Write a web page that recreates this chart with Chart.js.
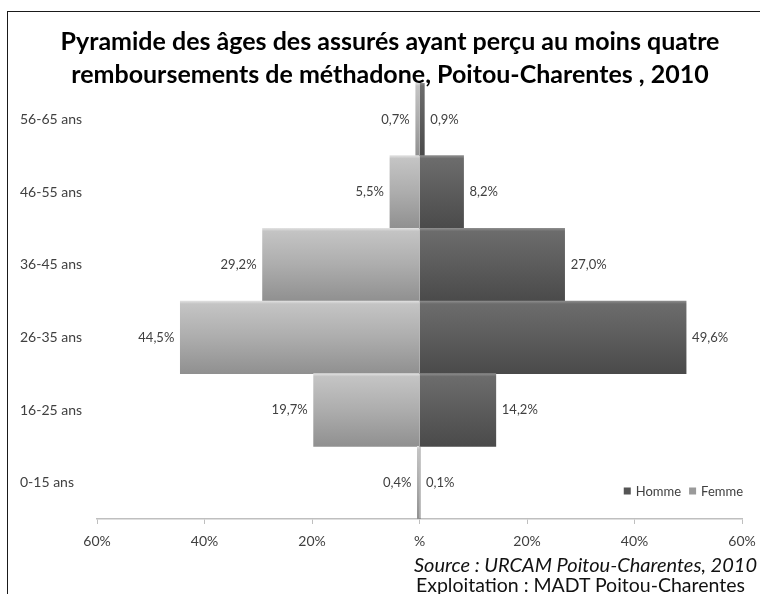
<!DOCTYPE html>
<html>
<head>
<meta charset="utf-8">
<script src="https://cdn.jsdelivr.net/npm/chart.js@4/dist/chart.umd.min.js"></script>
<style>
  html, body { margin: 0; padding: 0; background: #fff; overflow: hidden; }
  #wrap { position: relative; width: 760px; height: 594px; overflow: hidden; }
  #frame { position: absolute; left: 7px; top: 11px; width: 820px; height: 700px; border: 1.5px solid #1a1a1a; box-sizing: border-box; pointer-events: none; }
  canvas { position: absolute; left: 0; top: 0; }
  .src { position: absolute; right: 3px; font-family: Lato, "Liberation Sans", sans-serif; color: #111; white-space: nowrap; }
  #s1 { top: 552px; font-style: italic; font-size: 20px; }
  #s2 { top: 573px; right: 15px; font-size: 19.5px; }
</style>
</head>
<body>
<div id="wrap">
  <canvas id="c" width="760" height="594"></canvas>
  <div id="frame"></div>
  <div class="src" id="s1">Source : URCAM Poitou-Charentes, 2010</div>
  <div class="src" id="s2">Exploitation : MADT Poitou-Charentes</div>
</div>
<script>
const titleLines = ['Pyramide des âges des assurés ayant perçu au moins quatre', 'remboursements de méthadone, Poitou-Charentes , 2010'];
const categories = ['56-65 ans', '46-55 ans', '36-45 ans', '26-35 ans', '16-25 ans', '0-15 ans'];
const hommeValues = [0.9, 8.2, 27.0, 49.6, 14.2, 0.1];
const femmeValues = [-0.7, -5.5, -29.2, -44.5, -19.7, -0.4];
const xTickValues = [-60, -40, -20, 0, 20, 40, 60];
const xTickLabels = ['60%', '40%', '20%', '%', '20%', '40%', '60%'];
const seriesNames = ['Homme', 'Femme'];

const FONT = 'Lato, "Liberation Sans", sans-serif';

function barGradient(stops, solid) {
  return function (ctx) {
    const chart = ctx.chart;
    const y = chart.scales && chart.scales.y;
    if (!chart.chartArea || !y || ctx.dataIndex === undefined) return solid;
    const yc = y.getPixelForValue(ctx.dataIndex);
    const half = (y.bottom - y.top) / categories.length / 2;
    const g = chart.ctx.createLinearGradient(0, yc - half, 0, yc + half);
    stops.forEach(s => g.addColorStop(s[0], s[1]));
    return g;
  };
}

const femmeStops = [[0, '#e0e0e0'], [0.04, '#c4c4c4'], [0.5, '#adadad'], [1, '#909090']];
const hommeStops = [[0, '#8c8c8c'], [0.04, '#6c6c6c'], [0.5, '#5c5c5c'], [1, '#4a4a4a']];

const valueLabels = {
  id: 'valueLabels',
  afterDatasetsDraw(chart) {
    const c = chart.ctx;
    c.save();
    c.font = '13px ' + FONT;
    c.fillStyle = '#404040';
    c.textBaseline = 'middle';
    chart.data.datasets.forEach((ds, di) => {
      const meta = chart.getDatasetMeta(di);
      meta.data.forEach((el, i) => {
        const v = ds.data[i];
        const txt = Math.abs(v).toFixed(1).replace('.', ',') + '%';
        if (v < 0) { c.textAlign = 'right'; c.fillText(txt, el.x - 6, el.y); }
        else { c.textAlign = 'left'; c.fillText(txt, el.x + 6, el.y); }
      });
    });
    c.restore();
  }
};

const innerLegend = {
  id: 'innerLegend',
  afterDraw(chart) {
    const c = chart.ctx;
    const area = chart.chartArea;
    c.save();
    c.font = '13px ' + FONT;
    c.textBaseline = 'middle';
    c.textAlign = 'left';
    const items = chart.data.datasets.map(ds => ({ text: ds.label, color: ds.legendColor }));
    const box = 7, gapBox = 5, gapItem = 8;
    let total = 0;
    items.forEach((it, k) => { total += box + gapBox + c.measureText(it.text).width + (k < items.length - 1 ? gapItem : 0); });
    let x = area.right + 1 - total;
    const y = area.bottom - 28;
    items.forEach(it => {
      c.fillStyle = it.color;
      c.fillRect(x, y - box / 2, box, box);
      x += box + gapBox;
      c.fillStyle = '#404040';
      c.fillText(it.text, x, y + 1);
      x += c.measureText(it.text).width + gapItem;
    });
    c.restore();
  }
};

new Chart(document.getElementById('c'), {
  type: 'bar',
  data: {
    labels: categories,
    datasets: [
      { label: seriesNames[0], data: hommeValues, backgroundColor: barGradient(hommeStops, '#5c5c5c'), legendColor: '#555555', barPercentage: 1, categoryPercentage: 1 },
      { label: seriesNames[1], data: femmeValues, backgroundColor: barGradient(femmeStops, '#adadad'), legendColor: '#9a9a9a', barPercentage: 1, categoryPercentage: 1 }
    ]
  },
  options: {
    indexAxis: 'y',
    responsive: false,
    animation: false,
    layout: { padding: { left: 20, right: 0, top: 0, bottom: 40 } },
    plugins: {
      legend: { display: false },
      tooltip: { enabled: false },
      title: {
        display: true,
        text: titleLines,
        color: '#000',
        font: { family: FONT, size: 25, weight: 'bold', lineHeight: 1.32 },
        padding: { top: 25, bottom: -8 }
      }
    },
    scales: {
      x: {
        stacked: true,
        min: -60, max: 60,
        afterBuildTicks(scale) { scale.ticks = xTickValues.map(v => ({ value: v })); },
        afterFit(scale) { scale.height = 35; scale.paddingRight = 18; scale.paddingLeft = 0; },
        grid: { drawOnChartArea: false, drawTicks: true, tickLength: 5, color: '#bfbfbf' },
        border: { display: true, color: '#bfbfbf', width: 1.5 },
        ticks: {
          color: '#404040', font: { family: FONT, size: 14 }, padding: 9, maxRotation: 0,
          callback: function (v) { const i = xTickValues.indexOf(v); return i >= 0 ? xTickLabels[i] : ''; }
        }
      },
      y: {
        stacked: true,
        afterFit(scale) { scale.width = 77; },
        grid: { display: false },
        border: { display: false },
        ticks: { color: '#404040', font: { family: FONT, size: 14 }, crossAlign: 'far', padding: 0 }
      }
    }
  },
  plugins: [valueLabels, innerLegend]
});
</script>
</body>
</html>
